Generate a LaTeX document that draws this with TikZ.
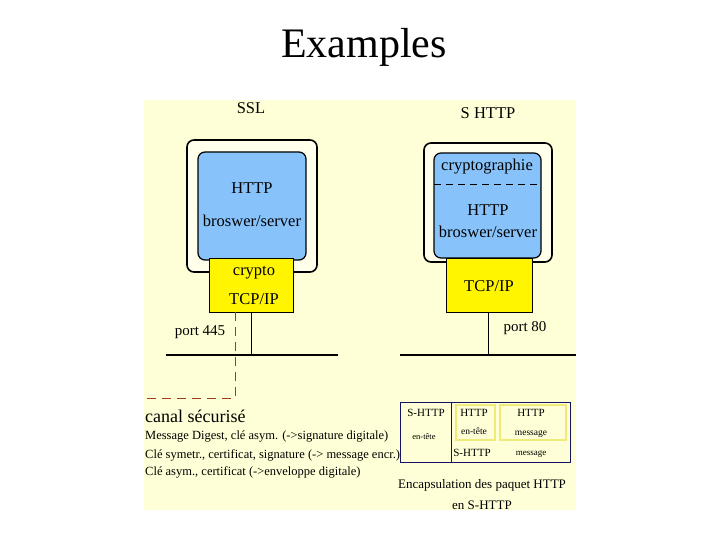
\documentclass[tikz,border=0pt]{standalone}
\usepackage{fontspec}
\setmainfont{Liberation Serif}
\begin{document}
\begin{tikzpicture}[x=1pt,y=-1pt,
  cream/.style={fill={rgb,255:red,255;green,255;blue,215}},
  outer/.style={draw=black,line width=1.6pt,rounded corners=7pt,fill={rgb,255:red,255;green,255;blue,235}},
  blue/.style={draw=black,line width=1.2pt,rounded corners=7pt,fill={rgb,255:red,135;green,195;blue,250}},
  yel/.style={draw=black,line width=0.9pt,fill={rgb,255:red,255;green,245;blue,0}},
  t/.style={font=\fontsize{16.5}{16.5}\selectfont,inner sep=0pt},
  s/.style={font=\fontsize{10}{10}\selectfont,inner sep=0pt},
  net/.style={line width=1.6pt},
  dashedred/.style={draw={rgb,255:red,160;green,60;blue,30},dash pattern=on 9pt off 6pt,line width=0.8pt}]
\useasboundingbox (0,0) rectangle (720,540);
\node[font=\fontsize{42}{42}\selectfont,inner sep=0pt] (title) at (364,47) {Examples};
\fill[cream] (144,100) rectangle (576,510);
\node[t] (ssl) at (251,108) {SSL};
\node[t] (shttp) at (488,113) {S HTTP};
% left
\draw[outer] (187,140) rectangle (317,272);
\draw[blue] (198,152) rectangle (306,260);
\node[t] (lhttp) at (252,188) {HTTP};
\node[t] (lbs) at (252,221) {broswer/server};
\draw[yel] (209,258) rectangle (293,312);
\node[t] (crypto) at (254,273) {crypto};
\node[t] (ltcp) at (254,299) {TCP/IP};
\coordinate (lbot) at (251,312);
\coordinate (lnet) at (251,355);
\draw[line width=0.9pt] (lbot) -- (lnet);
\draw[net] (166,355) -- (338,355);
\draw[dashedred] (235,312) -- (235,398) -- (144,398);
\node[t,font=\fontsize{15}{15}\selectfont] (p445) at (200,332) {port 445};
\node[font=\fontsize{18}{18}\selectfont,inner sep=0pt,anchor=west] (canal) at (145,416) {canal sécurisé};
\node[font=\fontsize{12.5}{12.5}\selectfont,inner sep=0pt,anchor=west] (l1) at (145,437) {Message Digest, clé asym. (->signature digitale)};
\node[font=\fontsize{12.5}{12.5}\selectfont,inner sep=0pt,anchor=west] (l2) at (145,455) {Clé symetr., certificat, signature (-> message encr.)};
\node[font=\fontsize{12.5}{12.5}\selectfont,inner sep=0pt,anchor=west] (l3) at (145,472) {Clé asym., certificat (->enveloppe digitale)};
% right
\draw[outer] (424,143) rectangle (552,262);
\draw[blue] (434,153) rectangle (541,258);
\draw[dash pattern=on 7pt off 5pt,line width=0.8pt] (434,184) -- (541,184);
\node[t] (crypt) at (487,167) {cryptographie};
\node[t] (rhttp) at (488,210) {HTTP};
\node[t] (rbs) at (488,232) {broswer/server};
\draw[yel] (446,258) rectangle (532,312);
\node[t] (rtcp) at (489,286) {TCP/IP};
\coordinate (rbot) at (488,312);
\coordinate (rnet) at (488,355);
\draw[line width=0.9pt] (rbot) -- (rnet);
\draw[net] (400,355) -- (576,355);
\node[t,font=\fontsize{15}{15}\selectfont] (p80) at (525,328) {port 80};
% encapsulation
\draw[draw={rgb,255:red,20;green,20;blue,100},line width=1pt] (400,402) rectangle (570,462);
\draw[draw={rgb,255:red,20;green,20;blue,100},line width=1pt] (451,402) -- (451,462);
\draw[draw={rgb,255:red,240;green,235;blue,120},line width=1.2pt] (456,405) rectangle (495,440);
\draw[draw={rgb,255:red,240;green,235;blue,120},line width=1.2pt] (500,405) rectangle (566,440);
\node[s,font=\fontsize{11}{11}\selectfont] (a1) at (426,413) {S-HTTP};
\node[s,font=\fontsize{8.5}{8.5}\selectfont] (a2) at (424,437) {en-tête};
\node[s,font=\fontsize{11}{11}\selectfont] (b1) at (474,413) {HTTP};
\node[s,font=\fontsize{9.5}{9.5}\selectfont] (b2) at (474,431) {en-tête};
\node[s,font=\fontsize{11}{11}\selectfont] (c1) at (531,413) {HTTP};
\node[s,font=\fontsize{9.5}{9.5}\selectfont] (c2) at (531,434) {message};
\node[s,font=\fontsize{11}{11}\selectfont] (d1) at (472,453) {S-HTTP};
\node[s,font=\fontsize{9}{9}\selectfont] (d2) at (531,454) {message};
\node[s,font=\fontsize{13}{13}\selectfont] (e1) at (482,485) {Encapsulation des paquet HTTP};
\node[s,font=\fontsize{13}{13}\selectfont] (e2) at (482,505) {en S-HTTP};
\end{tikzpicture}
\end{document}
